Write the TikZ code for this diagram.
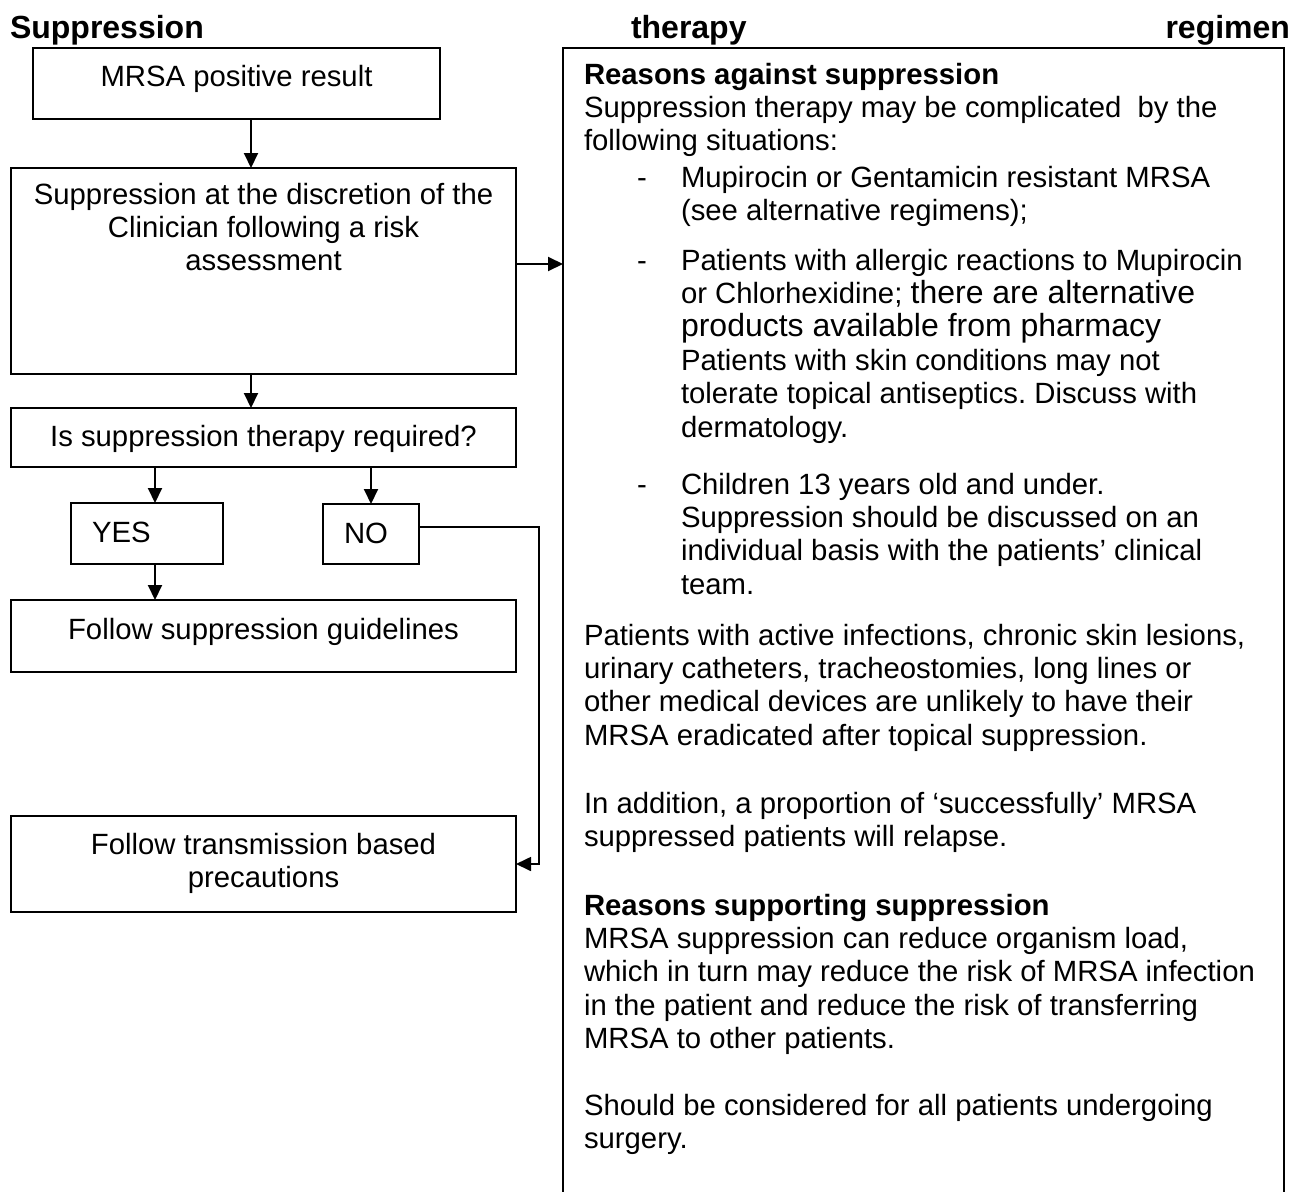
\documentclass[tikz,border=0pt]{standalone}
\usepackage{fontspec}
\setmainfont{Liberation Sans}
\frenchspacing
\usetikzlibrary{arrows.meta,calc}
\begin{document}
\begin{tikzpicture}[x=1pt,y=-1pt,
  every node/.style={inner sep=0pt, outer sep=0pt},
  body/.style={font=\fontsize{29.3}{33.4}\selectfont},
  big/.style={font=\fontsize{32}{36}\selectfont\bfseries},
  flowbox/.style={draw, line width=2pt, body, align=center, anchor=base},
  arr/.style={line width=2pt, -{Triangle[length=15pt,width=14pt]}},
  para/.style={body, align=left, anchor=base west},
  dashmark/.style={body, anchor=base west}
]
\path[use as bounding box, fill=white] (0,0) rectangle (1295,1191);

% titles
\node[big, anchor=base west] (t1) at (10,38) {Suppression};
\node[big, anchor=base west] (t2) at (631,38) {therapy};
\node[big, anchor=base east] (t3) at (1290,38) {regimen};

% left flow (multi-line nodes are placed by the baseline of their last line)
\node[flowbox, minimum width=407pt, text height=38pt, text depth=33pt] (mrsa) at (236.5,86) {MRSA positive result};
\node[flowbox, minimum width=505pt, text height=102.8pt, text depth=103.2pt] (supp) at (263.5,270.8)
  {Suppression at the discretion of the\\Clinician following a risk\\assessment};
\node[flowbox, minimum width=505pt, text height=38pt, text depth=21pt] (isreq) at (263.5,446)
  {Is suppression therapy required?};
\node[flowbox, anchor=base west, inner xsep=21pt, text width=110pt, align=left, text height=39pt, text depth=22pt] (yes) at (71,542) {YES};
\node[flowbox, anchor=base west, inner xsep=21pt, text width=54pt, align=left, text height=39pt, text depth=21pt] (no) at (323,543) {NO};
\node[flowbox, minimum width=505pt, text height=39pt, text depth=33pt] (follow) at (263.5,639)
  {Follow suppression guidelines};
\node[flowbox, minimum width=505pt, text height=71.4pt, text depth=24.6pt] (trans) at (263.5,887.4)
  {Follow transmission based\\precautions};

% right box
\node[draw, line width=2pt, minimum width=721pt, minimum height=1160pt, anchor=north west] (reasons) at (563,48) {};

\node[para] (r1) at (584,150.8) {\textbf{Reasons against suppression}\\Suppression therapy may be complicated\ \ by the\\following situations:};
\node[dashmark] (d1) at (637,187) {-};
\node[para] (i1) at (681,220.4) {Mupirocin or Gentamicin resistant MRSA\\(see alternative regimens);};
\node[dashmark] (d2) at (637,270) {-};
\node[para] (i2) at (681,437) {Patients with allergic reactions to Mupirocin\\or Chlorhexidine; {\fontsize{32}{33.4}\selectfont there are alternative}\\{\fontsize{32}{33.4}\selectfont products available from pharmacy}\\Patients with skin conditions may not\\tolerate topical antiseptics. Discuss with\\dermatology.};
\node[dashmark] (d3) at (637,494) {-};
\node[para] (i3) at (681,594.2) {Children 13 years old and under.\\Suppression should be discussed on an\\individual basis with the patients’ clinical\\team.};
\node[para] (p1) at (584,745.2) {Patients with active infections, chronic skin lesions,\\urinary catheters, tracheostomies, long lines or\\other medical devices are unlikely to have their\\MRSA eradicated after topical suppression.};
\node[para] (p2) at (584,846.4) {In addition, a proportion of ‘successfully’ MRSA\\suppressed patients will relapse.};
\node[para] (p3) at (584,1048.6) {\textbf{Reasons supporting suppression}\\MRSA suppression can reduce organism load,\\which in turn may reduce the risk of MRSA infection\\in the patient and reduce the risk of transferring\\MRSA to other patients.};
\node[para] (p4) at (584,1148.4) {Should be considered for all patients undergoing\\surgery.};

% connectors
\coordinate (ax1) at (251,0);
\coordinate (ax2) at (155,0);
\coordinate (kx) at (539,0);
\draw[arr] (mrsa.south -| ax1) -- (supp.north -| ax1);
\draw[arr] (supp.south -| ax1) -- (isreq.north -| ax1);
\draw[arr] (isreq.south -| ax2) -- (yes.north -| ax2);
\draw[arr] (isreq.south -| no.north) -- (no.north);
\draw[arr] (yes.south -| ax2) -- (follow.north -| ax2);
\draw[arr] ([yshift=7pt]supp.east) -- ([yshift=7pt]supp.east -| reasons.west);
\draw[arr, line width=1.7pt] ([yshift=7pt]no.east) -| (kx |- trans.east) -- (trans.east);
\end{tikzpicture}
\end{document}
